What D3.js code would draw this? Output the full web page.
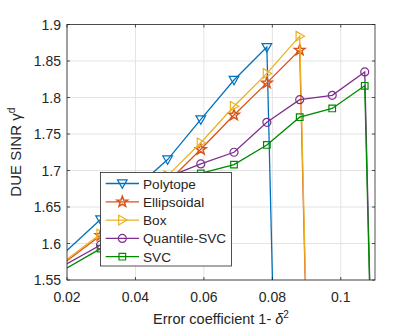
<!DOCTYPE html>
<html>
<head>
<meta charset="utf-8">
<script src="https://cdn.jsdelivr.net/npm/d3@7"></script>
<style>
html,body{margin:0;padding:0;background:#fff;}
svg{display:block;}
text{font-family:"Liberation Sans",Arial,Helvetica,sans-serif;fill:#262626;}
</style>
</head>
<body>
<svg id="chart" width="415" height="332"></svg>
<script>
// x values: error coefficient 1 - delta^2
const xValues = [0.0199, 0.0298, 0.0396, 0.0494, 0.0591, 0.0688, 0.0784, 0.0880, 0.0975, 0.1070, 0.1164];
const seriesNames = ["Polytope", "Ellipsoidal", "Box", "Quantile-SVC", "SVC"];
const polytope    = [1.590, 1.633, 1.674, 1.715, 1.770, 1.824, 1.869, 0];
const ellipsoidal = [1.576, 1.611, 1.646, 1.684, 1.729, 1.776, 1.820, 1.865, 0];
const box         = [1.578, 1.613, 1.652, 1.693, 1.738, 1.788, 1.833, 1.884, 0];
const quantileSVC = [1.572, 1.598, 1.645, 1.691, 1.709, 1.725, 1.766, 1.797, 1.803, 1.835, 0];
const svc         = [1.566, 1.593, 1.630, 1.668, 1.696, 1.708, 1.735, 1.773, 1.785, 1.816, 0];
const xTicks = [0.02, 0.04, 0.06, 0.08, 0.1];
const xTickLabels = ["0.02", "0.04", "0.06", "0.08", "0.1"];
const yTicks = [1.55, 1.6, 1.65, 1.7, 1.75, 1.8, 1.85, 1.9];
const yTickLabels = ["1.55", "1.6", "1.65", "1.7", "1.75", "1.8", "1.85", "1.9"];
const xDomain = [0.02, 0.11];
const yDomain = [1.55, 1.9];

const colors = ["#0072BD", "#D95319", "#EDB120", "#7E2F8E", "#008a00"];
const markers = ["tridown", "star", "triright", "circle", "square"];
const allSeries = [polytope, ellipsoidal, box, quantileSVC, svc];

const svg = d3.select("#chart");
const L = 67, R = 375, T = 24.5, B = 280;
const x = d3.scaleLinear().domain(xDomain).range([L, R]);
const y = d3.scaleLinear().domain(yDomain).range([B, T]);

svg.append("defs").append("clipPath").attr("id", "clip")
  .append("rect").attr("x", L).attr("y", T).attr("width", R - L).attr("height", B - T);

// grid
const grid = svg.append("g");
xTicks.forEach(t => grid.append("line").attr("x1", x(t)).attr("x2", x(t)).attr("y1", T).attr("y2", B)
  .attr("stroke", "#e3e3e3").attr("stroke-width", 1));
yTicks.forEach(t => grid.append("line").attr("y1", y(t)).attr("y2", y(t)).attr("x1", L).attr("x2", R)
  .attr("stroke", "#e3e3e3").attr("stroke-width", 1));

function markerPath(type) {
  if (type === "tridown") return "M-4.8,-3.6L4.8,-3.6L0,4.8Z";
  if (type === "triright") return "M-3.6,-4.8L-3.6,4.8L4.8,0Z";
  if (type === "square") return "M-3.3,-3.3H3.3V3.3H-3.3Z";
  if (type === "circle") return "M4,0A4,4 0 1,1 -4,0A4,4 0 1,1 4,0Z";
  if (type === "star") {
    const pts = [];
    for (let i = 0; i < 10; i++) {
      const r = i % 2 === 0 ? 5.6 : 2.3;
      const a = -Math.PI / 2 + i * Math.PI / 5;
      pts.push([r * Math.cos(a), r * Math.sin(a)]);
    }
    return "M" + pts.map(p => p[0].toFixed(2) + "," + p[1].toFixed(2)).join("L") + "Z";
  }
}

const plot = svg.append("g").attr("clip-path", "url(#clip)");
const line = d3.line().x(d => x(d[0])).y(d => y(d[1]));

allSeries.forEach((vals, i) => {
  const pts = vals.map((v, j) => [xValues[j], v]);
  plot.append("path").datum(pts).attr("d", line)
    .attr("fill", "none").attr("stroke", colors[i]).attr("stroke-width", 1.3);
  const inside = pts.filter(p => p[0] >= xDomain[0] && p[0] <= xDomain[1] && p[1] >= yDomain[0] && p[1] <= yDomain[1]);
  plot.selectAll(null).data(inside).enter().append("path")
    .attr("transform", d => `translate(${x(d[0])},${y(d[1])})`)
    .attr("d", markerPath(markers[i]))
    .attr("fill", "none").attr("stroke", colors[i]).attr("stroke-width", markers[i] === "star" ? 1.5 : 1.2);
});

// axes box
const axc = "#262626";
svg.append("rect").attr("x", L).attr("y", T).attr("width", R - L).attr("height", B - T)
  .attr("fill", "none").attr("stroke", axc).attr("stroke-width", 0.8);

// ticks (inward, all sides)
const tl = 3;
xTicks.forEach(t => {
  svg.append("line").attr("x1", x(t)).attr("x2", x(t)).attr("y1", B).attr("y2", B - tl).attr("stroke", axc).attr("stroke-width", 0.8);
  svg.append("line").attr("x1", x(t)).attr("x2", x(t)).attr("y1", T).attr("y2", T + tl).attr("stroke", axc).attr("stroke-width", 0.8);
});
yTicks.forEach(t => {
  svg.append("line").attr("y1", y(t)).attr("y2", y(t)).attr("x1", L).attr("x2", L + tl).attr("stroke", axc).attr("stroke-width", 0.8);
  svg.append("line").attr("y1", y(t)).attr("y2", y(t)).attr("x1", R).attr("x2", R - tl).attr("stroke", axc).attr("stroke-width", 0.8);
});

// tick labels
xTicks.forEach((t, i) => svg.append("text").attr("x", x(t)).attr("y", 302)
  .attr("text-anchor", "middle").attr("font-size", "14px").text(xTickLabels[i]));
yTicks.forEach((t, i) => svg.append("text").attr("x", 61).attr("y", y(t) + 5)
  .attr("text-anchor", "end").attr("font-size", "14px").text(yTickLabels[i]));

// x label
const xl = svg.append("text").attr("x", (L + R) / 2).attr("y", 324).attr("text-anchor", "middle").attr("font-size", "14.5px");
xl.append("tspan").text("Error coefficient 1- ");
xl.append("tspan").attr("font-style", "italic").text("δ");
xl.append("tspan").attr("font-size", "10px").attr("dy", "-6").text("2");

// y label
const yl = svg.append("text").attr("transform", `translate(21,${(T + B) / 2}) rotate(-90)`)
  .attr("text-anchor", "middle").attr("font-size", "15px");
yl.append("tspan").text("DUE SINR ");
yl.append("tspan").text("γ");
yl.append("tspan").attr("font-size", "10px").attr("dy", "-6").text("d");

// legend
const lg = svg.append("g");
lg.append("rect").attr("x", 100.5).attr("y", 172.5).attr("width", 131).attr("height", 93.5)
  .attr("fill", "#fff").attr("stroke", axc).attr("stroke-width", 0.8);
seriesNames.forEach((name, i) => {
  const yy = 183.5 + i * 18.3;
  lg.append("line").attr("x1", 105.7).attr("x2", 139).attr("y1", yy).attr("y2", yy)
    .attr("stroke", colors[i]).attr("stroke-width", 1.3);
  lg.append("path").attr("transform", `translate(122.3,${yy})`).attr("d", markerPath(markers[i]))
    .attr("fill", "none").attr("stroke", colors[i]).attr("stroke-width", markers[i] === "star" ? 1.5 : 1.2);
  lg.append("text").attr("x", 143).attr("y", yy + 5).attr("font-size", "13.6px").text(name);
});
</script>
</body>
</html>
